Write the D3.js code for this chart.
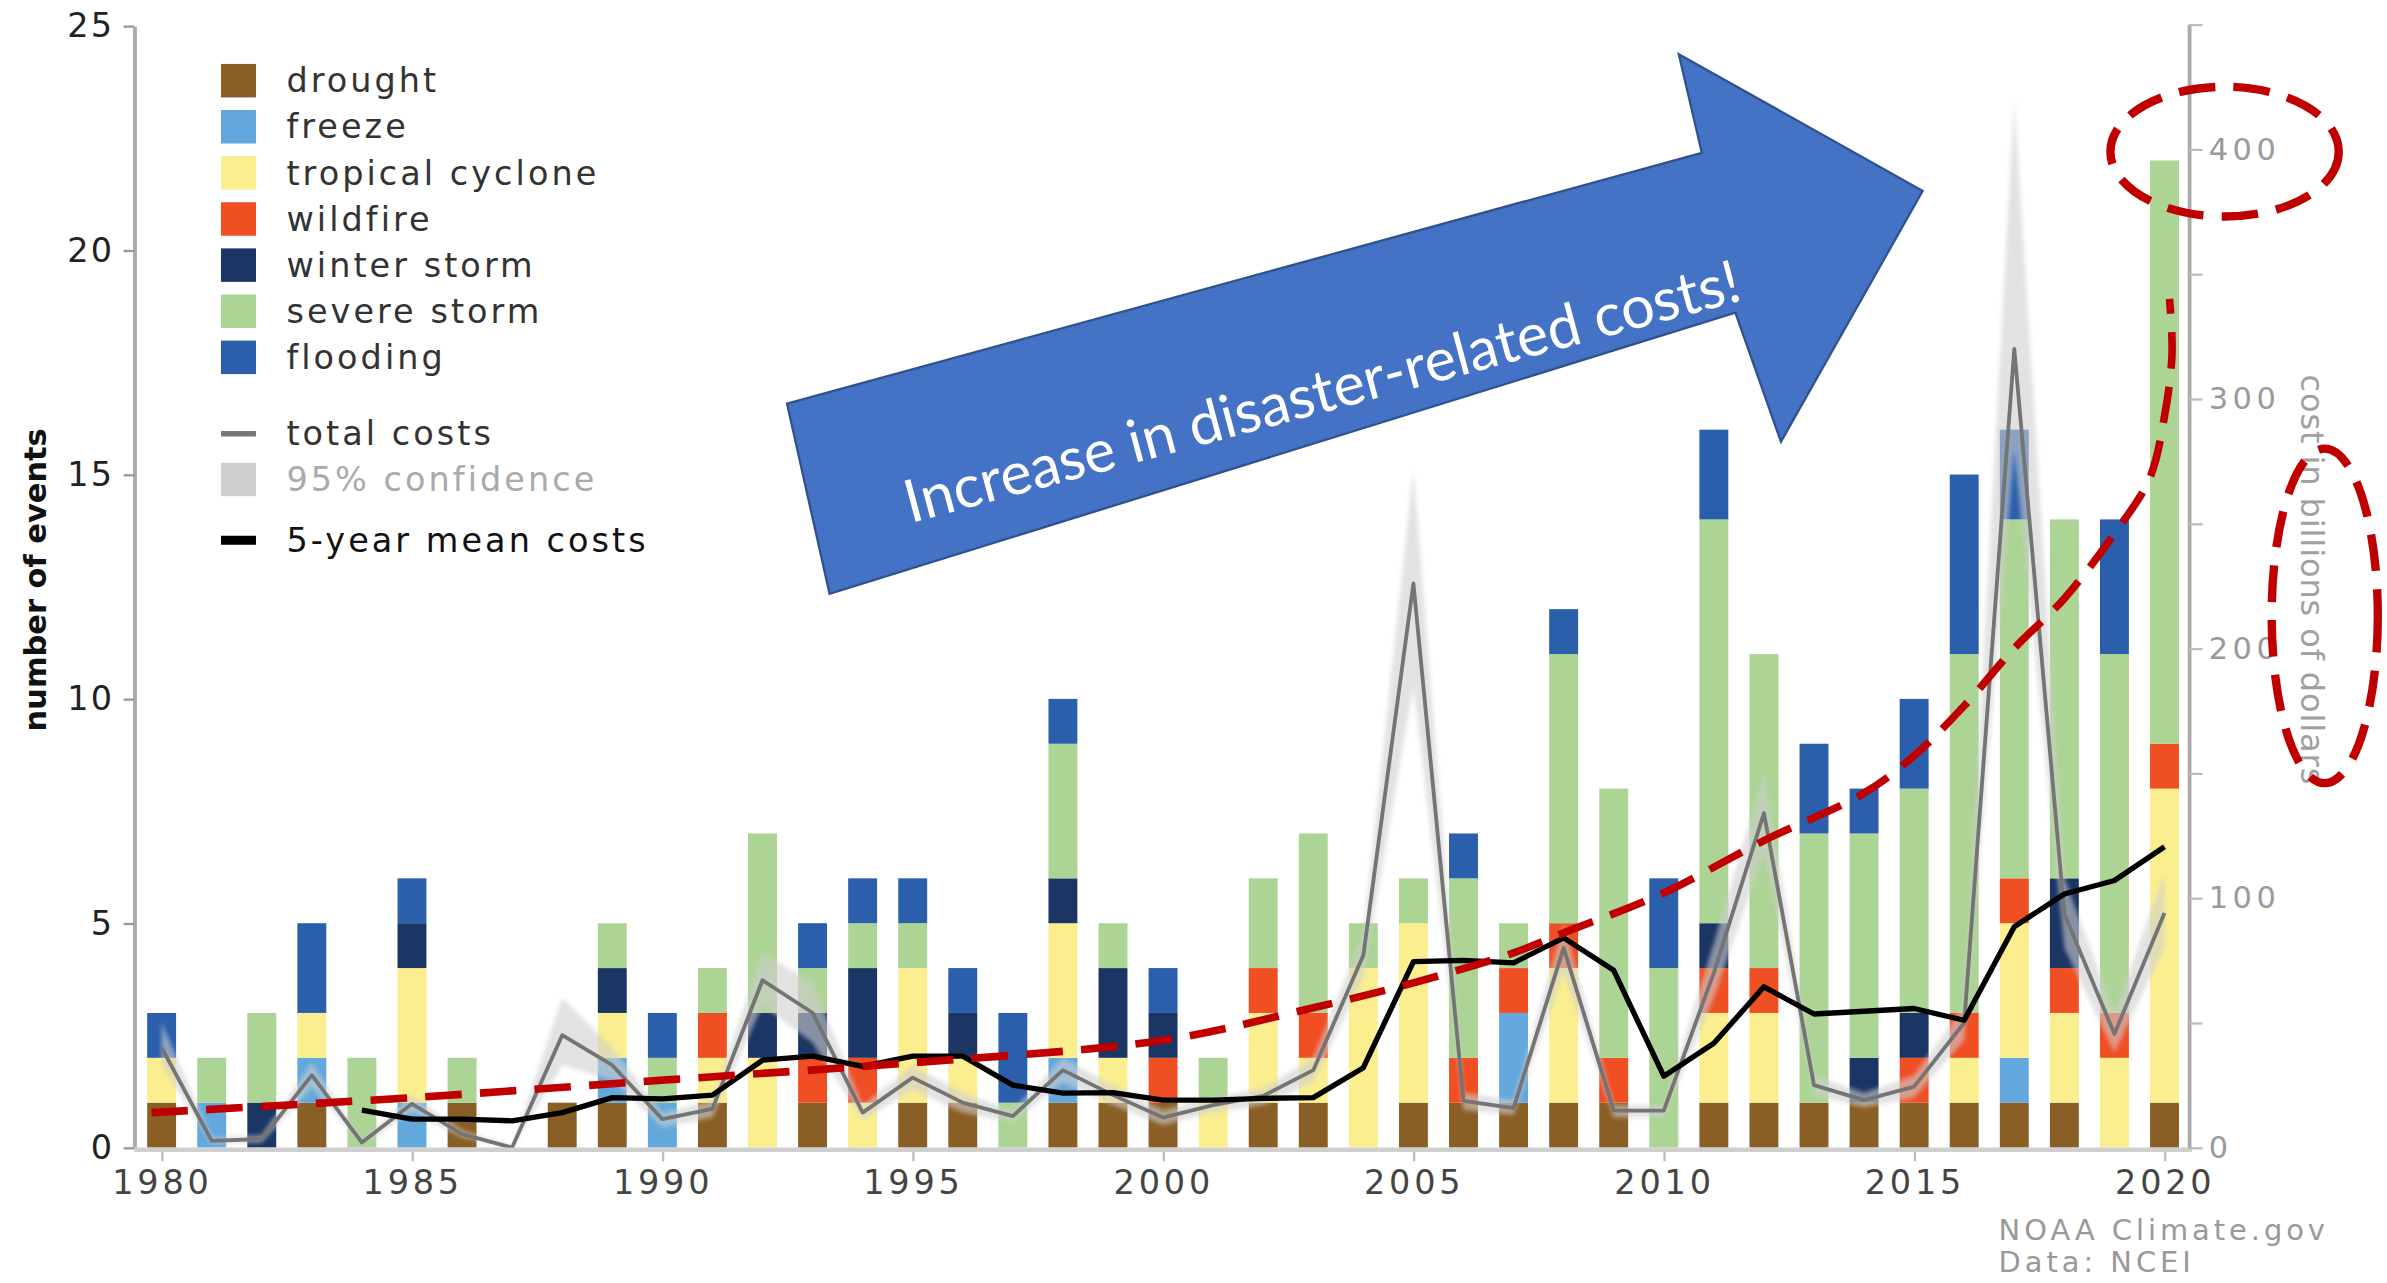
<!DOCTYPE html>
<html>
<head>
<meta charset="utf-8">
<script src="https://cdn.jsdelivr.net/npm/d3@7"></script>
<style>
    body { margin: 0; background: #fff; }
    svg { display: block; }
</style>
</head>
<body>
<div id="chart"></div>
<script>
// number of billion-dollar events per year, by type
const years = [1980, 1981, 1982, 1983, 1984, 1985, 1986, 1987, 1988, 1989,
               1990, 1991, 1992, 1993, 1994, 1995, 1996, 1997, 1998, 1999,
               2000, 2001, 2002, 2003, 2004, 2005, 2006, 2007, 2008, 2009,
               2010, 2011, 2012, 2013, 2014, 2015, 2016, 2017, 2018, 2019, 2020];
const drought         = [1,0,0,1,0,0,1,0,1,1, 0,1,0,1,0,1,1,0,1,1, 1,0,1,1,0,1,1,1,1,1, 0,1,1,1,1,1,1,1,1,0,1];
const freeze          = [0,1,0,1,0,1,0,0,0,1, 1,0,0,0,0,0,0,0,1,0, 0,0,0,0,0,0,0,2,0,0, 0,0,0,0,0,0,0,1,0,0,0];
const tropicalCyclone = [1,0,0,1,0,3,0,0,0,1, 0,1,2,0,1,3,1,0,3,1, 0,1,2,1,4,4,0,0,3,0, 0,2,2,0,0,0,1,3,2,2,7];
const wildfire        = [0,0,0,0,0,0,0,0,0,0, 0,1,0,1,1,0,0,0,0,0, 1,0,1,1,0,0,1,1,1,1, 0,1,1,0,0,1,1,1,1,1,1];
const winterStorm     = [0,0,1,0,0,1,0,0,0,1, 0,0,1,1,2,0,1,0,1,2, 1,0,0,0,0,0,0,0,0,0, 0,1,0,0,1,1,0,0,2,0,0];
const severeStorm     = [0,1,2,0,2,0,1,0,0,1, 1,1,4,1,1,1,0,1,3,1, 0,1,2,4,1,1,4,1,6,6, 4,9,7,6,5,5,8,8,8,8,13];
const flooding        = [1,0,0,2,0,1,0,0,0,0, 1,0,0,1,1,1,1,2,1,0, 1,0,0,0,0,0,1,0,1,0, 2,2,0,2,1,2,4,2,0,3,0];

// total costs, billions of dollars, with 95% confidence range
const totalCost = [40, 2.7, 3.4, 29, 2, 17.5, 5.4, 0, 45, 33,
                   11.4, 15.5, 67, 54, 14, 28, 18, 12.6, 31, 21,
                   12, 17, 20.7, 31, 77, 226, 18.7, 15.8, 80, 14.8,
                   14.8, 70, 134, 25, 19, 24.4, 50, 320, 93.6, 45.5, 94];
const costLow   = [33, 1.5, 2, 24, 1, 14, 4, 0, 33, 27,
                   8, 12, 57, 42, 11, 23, 14, 10, 26, 17,
                   9, 14, 17, 26, 68, 185, 15, 13, 70, 12,
                   12, 60, 118, 21, 16, 20, 43, 280, 80, 38, 80];
const costHigh  = [50, 4, 5, 34, 3, 21, 7, 0.5, 60, 40,
                   14, 19, 78, 66, 17, 33, 22, 15, 36, 25,
                   15, 20, 24, 36, 86, 272, 22, 19, 90, 17,
                   17, 82, 150, 29, 22, 29, 57, 420, 108, 54, 110];

// 5-year mean costs, billions of dollars
const meanYears = [1984, 1985, 1986, 1987, 1988, 1989, 1990, 1991, 1992, 1993,
                   1994, 1995, 1996, 1997, 1998, 1999, 2000, 2001, 2002, 2003,
                   2004, 2005, 2006, 2007, 2008, 2009, 2010, 2011, 2012, 2013,
                   2014, 2015, 2016, 2017, 2018, 2019, 2020];
const meanCost  = [15, 11.4, 11.4, 10.7, 14, 20, 19.5, 21, 35, 36.6,
                   32.5, 36.6, 36.6, 25, 21.8, 22, 19, 19, 19.7, 20,
                   32, 74.5, 75, 74, 84, 71, 28.6, 41.8, 64.4, 53.5,
                   54.6, 55.7, 51, 88.5, 101.6, 107, 120.5];

const eventTicks = [0, 5, 10, 15, 20, 25];
const costTicks = [0, 50, 100, 150, 200, 250, 300, 350, 400, 450];
const yearTicks = [1980, 1985, 1990, 1995, 2000, 2005, 2010, 2015, 2020];

// hand-drawn annotation: red dashed trend (year, billions)
const trendYears = [1979.8, 1985, 1990, 1995, 2000, 2003, 2005, 2007, 2008, 2010,
                    2012, 2014, 2015, 2016, 2017, 2018, 2019, 2019.7, 2020, 2020.15, 2020.1];
const trendCost  = [14, 20, 27, 34, 43, 56, 66, 78, 86, 102,
                    123, 142, 157, 177, 200, 220, 246, 268, 293, 318, 340];

// blue arrow annotation (year, number of events)
const arrowYears  = [1992.49, 2010.76, 2010.30, 2015.17, 2012.34, 2011.43, 1993.34];
const arrowEvents = [16.58, 22.17, 24.37, 21.32, 15.73, 18.61, 12.34];

const series = [
    { key: "drought", label: "drought", color: "#8a5f26", values: drought },
    { key: "freeze", label: "freeze", color: "#62a8dc", values: freeze },
    { key: "tropical", label: "tropical cyclone", color: "#fbee8f", values: tropicalCyclone },
    { key: "wildfire", label: "wildfire", color: "#f04e23", values: wildfire },
    { key: "winter", label: "winter storm", color: "#1b3564", values: winterStorm },
    { key: "severe", label: "severe storm", color: "#acd494", values: severeStorm },
    { key: "flooding", label: "flooding", color: "#2b5fac", values: flooding }
];

const W = 1568, H = 843;
const font = "'DejaVu Sans', Verdana, sans-serif";

const svg = d3.select("#chart")
    .append("svg")
    .attr("width", 2387)
    .attr("height", 1283)
    .attr("viewBox", `0 0 ${W} ${H}`);

const x = d3.scaleLinear().domain([1980, 2020]).range([106, 1422]);
const yL = d3.scaleLinear().domain([0, 25]).range([754, 17]);
const yR = d3.scaleLinear().domain([0, 450]).range([754, 16]);
const leftX = 88, rightX = 1438, barW = 19;

// stacked bars
const rows = years.map((yr, i) => {
    const r = { year: yr };
    series.forEach(s => r[s.key] = s.values[i]);
    return r;
});
const stacked = d3.stack().keys(series.map(s => s.key))(rows);

svg.append("g")
    .selectAll("g")
    .data(stacked)
    .enter()
    .append("g")
    .attr("fill", (d, i) => series[i].color)
    .selectAll("rect")
    .data(d => d.filter(p => p[1] > p[0]))
    .enter()
    .append("rect")
    .attr("x", d => x(d.data.year) - barW / 2)
    .attr("width", barW)
    .attr("y", d => yL(d[1]))
    .attr("height", d => yL(d[0]) - yL(d[1]));

// confidence band + total cost line
const defs = svg.append("defs");
defs.append("filter").attr("id", "soft")
    .append("feGaussianBlur").attr("stdDeviation", 1.5);

const band = d3.area()
    .x((d, i) => x(years[i]))
    .y0((d, i) => yR(costLow[i]))
    .y1((d, i) => yR(costHigh[i]));

svg.append("path")
    .datum(totalCost)
    .attr("d", band)
    .attr("fill", "#cfcfcf")
    .attr("opacity", 0.6)
    .attr("filter", "url(#soft)");

svg.append("path")
    .datum(totalCost)
    .attr("d", d3.line().x((d, i) => x(years[i])).y(d => yR(d)))
    .attr("fill", "none")
    .attr("stroke", "#747474")
    .attr("stroke-width", 2.5)
    .attr("stroke-linejoin", "round");

svg.append("path")
    .datum(meanCost)
    .attr("d", d3.line().x((d, i) => x(meanYears[i])).y(d => yR(d)))
    .attr("fill", "none")
    .attr("stroke", "#000")
    .attr("stroke-width", 3.5)
    .attr("stroke-linejoin", "round");

// axes
const left = svg.append("g")
    .attr("transform", `translate(${leftX},0)`)
    .call(d3.axisLeft(yL).tickValues(eventTicks).tickSize(7).tickSizeOuter(0).tickPadding(6));
left.select(".domain").attr("stroke", "#aaa").attr("stroke-width", 2.5);
left.selectAll(".tick line").attr("stroke", "#999").attr("stroke-width", 1.5);
left.selectAll(".tick text").attr("font-family", font).attr("font-size", 22)
    .attr("letter-spacing", 1.5).attr("fill", "#222");

svg.append("line")
    .attr("x1", leftX).attr("x2", rightX + 2)
    .attr("y1", 755.5).attr("y2", 755.5)
    .attr("stroke", "#cfcfcf").attr("stroke-width", 3);

const bottom = svg.append("g")
    .attr("transform", "translate(0,757)")
    .call(d3.axisBottom(x).tickValues(yearTicks).tickFormat(d3.format("d")).tickSize(6).tickPadding(6));
bottom.select(".domain").remove();
bottom.selectAll(".tick line").attr("stroke", "#bbb").attr("stroke-width", 1.5);
bottom.selectAll(".tick text").attr("font-family", font).attr("font-size", 22)
    .attr("letter-spacing", 2.5).attr("fill", "#444");

const right = svg.append("g")
    .attr("transform", `translate(${rightX},0)`)
    .call(d3.axisRight(yR).tickValues(costTicks).tickSize(9).tickSizeOuter(0).tickPadding(4)
        .tickFormat(d => d % 100 === 0 ? d : ""));
right.select(".domain").attr("stroke", "#aaa").attr("stroke-width", 2.5);
right.selectAll(".tick line").attr("stroke", "#bbb").attr("stroke-width", 1.5);
right.selectAll(".tick text").attr("font-family", font).attr("font-size", 20)
    .attr("letter-spacing", 3).attr("fill", "#9a9a9a");

// axis titles
svg.append("text")
    .attr("transform", "translate(30,381) rotate(-90)")
    .attr("text-anchor", "middle")
    .attr("font-family", font).attr("font-size", 20).attr("font-weight", 600)
    .attr("fill", "#111")
    .text("number of events");

svg.append("text")
    .attr("transform", "translate(1512,381) rotate(90)")
    .attr("text-anchor", "middle")
    .attr("font-family", font).attr("font-size", 21)
    .attr("letter-spacing", 0.6)
    .attr("fill", "#a0a0a0")
    .text("cost in billions of dollars");

// legend
const legend = svg.append("g").attr("transform", "translate(145,53)");
const legendStep = 30.3;
series.forEach((s, i) => {
    legend.append("rect")
        .attr("x", 0).attr("y", i * legendStep - 11)
        .attr("width", 23).attr("height", 22)
        .attr("fill", s.color);
    legend.append("text")
        .attr("x", 43).attr("y", i * legendStep)
        .attr("dy", "0.35em")
        .attr("font-family", font).attr("font-size", 22).attr("letter-spacing", 2)
        .attr("fill", "#333")
        .text(s.label);
});
const extra = [
    { label: "total costs", y: 232, type: "line", color: "#777", w: 3.5, text: "#333" },
    { label: "95% confidence", y: 262, type: "rect", color: "#cfcfcf", text: "#aaa" },
    { label: "5-year mean costs", y: 302, type: "line", color: "#000", w: 6, text: "#111" }
];
extra.forEach(e => {
    if (e.type === "line") {
        legend.append("line")
            .attr("x1", 0).attr("x2", 23)
            .attr("y1", e.y).attr("y2", e.y)
            .attr("stroke", e.color).attr("stroke-width", e.w);
    } else {
        legend.append("rect")
            .attr("x", 0).attr("y", e.y - 11)
            .attr("width", 23).attr("height", 22)
            .attr("fill", e.color);
    }
    legend.append("text")
        .attr("x", 43).attr("y", e.y)
        .attr("dy", "0.35em")
        .attr("font-family", font).attr("font-size", 22).attr("letter-spacing", 2)
        .attr("fill", e.text)
        .text(e.label);
});

// source
svg.append("text")
    .attr("x", 1313).attr("y", 815)
    .attr("font-family", font).attr("font-size", 19).attr("letter-spacing", 2.6)
    .attr("fill", "#999")
    .text("NOAA Climate.gov");
svg.append("text")
    .attr("x", 1313).attr("y", 836)
    .attr("font-family", font).attr("font-size", 19).attr("letter-spacing", 2.6)
    .attr("fill", "#999")
    .text("Data: NCEI");

// annotations: red dashed trend and ellipses
svg.append("path")
    .datum(trendCost)
    .attr("d", d3.line().curve(d3.curveCatmullRom).x((d, i) => x(trendYears[i])).y(d => yR(d)))
    .attr("fill", "none")
    .attr("stroke", "#c00000")
    .attr("stroke-width", 5)
    .attr("stroke-dasharray", "24 12");

const ellipses = [
    { year: 2021.2, cost: 399, dYear: 2.28, dCost: 26 },
    { year: 2023.2, cost: 213, dYear: 1.06, dCost: 67 }
];
svg.selectAll(".ring")
    .data(ellipses)
    .enter()
    .append("ellipse")
    .attr("class", "ring")
    .attr("cx", d => x(d.year))
    .attr("cy", d => yR(d.cost))
    .attr("rx", d => x(d.year + d.dYear) - x(d.year))
    .attr("ry", d => yR(d.cost - d.dCost) - yR(d.cost))
    .attr("fill", "none")
    .attr("stroke", "#c00000")
    .attr("stroke-width", 5.5)
    .attr("stroke-dasharray", "24 12");

// blue arrow
svg.append("polygon")
    .attr("points", arrowYears.map((yr, i) => [x(yr), yL(arrowEvents[i])].join(",")).join(" "))
    .attr("fill", "#4472c4")
    .attr("stroke", "#2f528f")
    .attr("stroke-width", 1.5);

svg.append("text")
    .attr("transform", `translate(${x(2003.16)},${yL(16.9)}) rotate(-15)`)
    .attr("text-anchor", "middle")
    .attr("dominant-baseline", "central")
    .attr("font-family", "Lato, 'Open Sans', sans-serif")
    .attr("font-size", 39)
    .attr("fill", "#fff")
    .text("Increase in disaster-related costs!");
</script>
</body>
</html>
